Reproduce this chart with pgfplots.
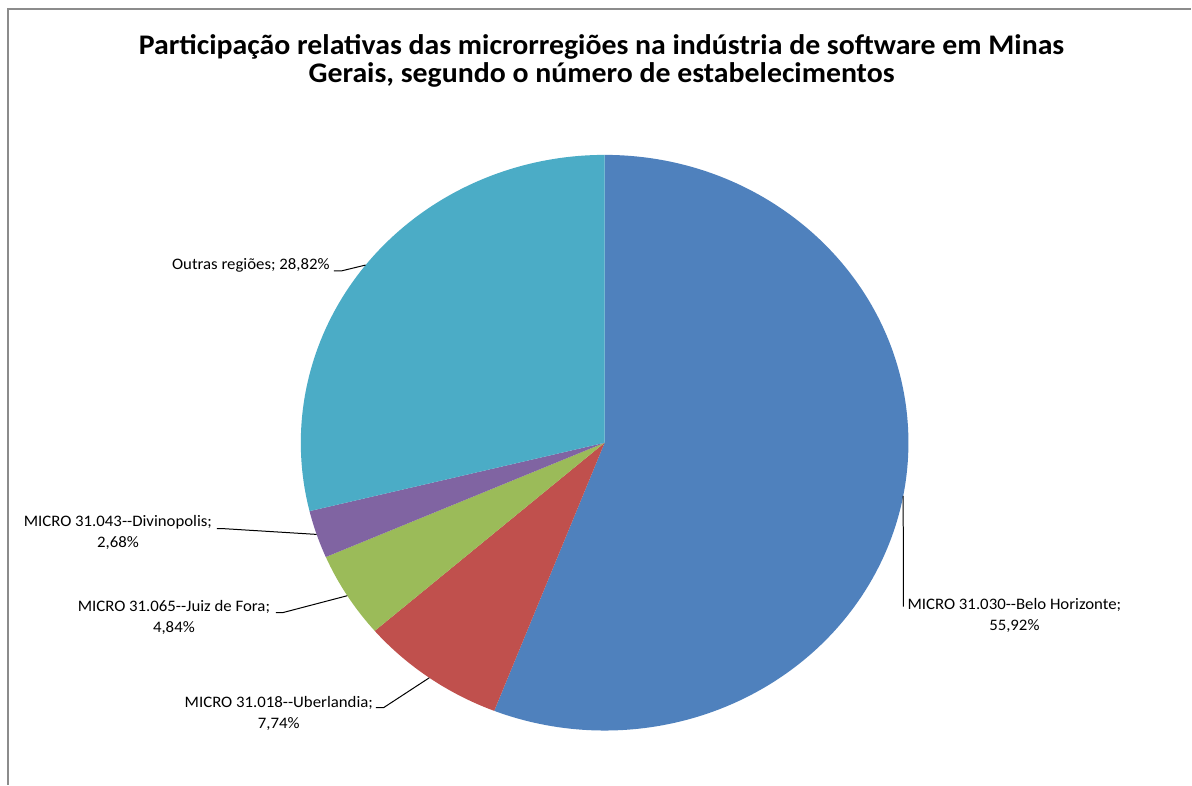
\documentclass[border=0pt]{standalone}
\usepackage{pgfplots}
\pgfplotsset{compat=1.18}
\usepackage{pgfplotstable}
\usepackage{fontspec}
\setmainfont{Carlito}[FakeStretch=1.05]

\definecolor{slice0}{HTML}{4F81BD}
\definecolor{slice1}{HTML}{C0504D}
\definecolor{slice2}{HTML}{9BBB59}
\definecolor{slice3}{HTML}{8064A2}
\definecolor{slice4}{HTML}{4BACC6}

% share (%) of each micro-region, clockwise from 12 o'clock;
% kx/ky and ex/ey: knee and end of the leader line (picture pixels, y down)
\pgfplotstableread{
pct   kx   ky   ex   ey
55.92 904  607  904  607
7.74  384  708  376  708
4.84  283  613  276  613
2.68  224  529  217  529
28.82 342  271  334  271
}\piedata
\pgfplotstablecreatecol[create col/expr accum={\pgfmathaccuma + \thisrow{pct}}{0}]{cum}\piedata

\begin{document}
\begin{tikzpicture}
\begin{axis}[
    width=596pt, height=392.5pt, scale only axis,
    xmin=0, xmax=1192, ymin=0, ymax=785,
    hide axis, clip=false,
  ]
  \fill[white] (axis cs:0,0) rectangle (axis cs:1192,785);
  \draw[black!45, line width=0.75pt] (axis cs:8,0) -- (axis cs:8,776) -- (axis cs:1192,776);

  \pgfplotsinvokeforeach{0,...,4}{
    \pgfplotstablegetelem{#1}{pct}\of\piedata \let\pval\pgfplotsretval
    \pgfplotstablegetelem{#1}{cum}\of\piedata \let\pcum\pgfplotsretval
    \pgfplotstablegetelem{#1}{kx}\of\piedata \let\kx\pgfplotsretval
    \pgfplotstablegetelem{#1}{ky}\of\piedata \let\ky\pgfplotsretval
    \pgfplotstablegetelem{#1}{ex}\of\piedata \let\ex\pgfplotsretval
    \pgfplotstablegetelem{#1}{ey}\of\piedata \let\ey\pgfplotsretval
    \pgfmathsetmacro\sa{90-3.6*(\pcum-\pval)}
    \pgfmathsetmacro\ea{90-3.6*\pcum}
    \pgfmathsetmacro\ma{90-3.6*(\pcum-\pval/2)}
    \pgfmathsetmacro\sx{605+304*cos(\sa)}
    \pgfmathsetmacro\sy{342+288*sin(\sa)}
    \pgfmathsetmacro\mx{605+304*cos(\ma)}
    \pgfmathsetmacro\my{342+288*sin(\ma)}
    \pgfmathsetmacro\kY{785-\ky}
    \pgfmathsetmacro\eY{785-\ey}
    \edef\temp{%
      \noexpand\fill[slice#1] (axis cs:605,342) -- (axis cs:\sx,\sy)
        arc[start angle=\sa, end angle=\ea, x radius=152pt, y radius=144pt] -- cycle;
      \noexpand\draw[black, line width=0.5pt] (axis cs:\mx,\my) -- (axis cs:\kx,\kY) -- (axis cs:\ex,\eY);
    }
    \temp
  }

  \node[align=center, font=\bfseries\fontsize{14.2}{14}\selectfont] at (axis cs:602,724)
    {Participação relativas das microrregiões na indústria de software em Minas\\Gerais, segundo o número de estabelecimentos};

  \begin{scope}[every node/.style={align=center, font=\fontsize{8}{10.5}\selectfont}]
    \node at (axis cs:1015,169) {MICRO 31.030-{}-Belo Horizonte;\\55,92\%};
    \node at (axis cs:279,71) {MICRO 31.018-{}-Uberlandia;\\7,74\%};
    \node at (axis cs:174,167) {MICRO 31.065-{}-Juiz de Fora;\\4,84\%};
    \node at (axis cs:118,252) {MICRO 31.043-{}-Divinopolis;\\2,68\%};
    \node at (axis cs:251,519) {Outras regiões; 28,82\%};
  \end{scope}
\end{axis}
\end{tikzpicture}
\end{document}
